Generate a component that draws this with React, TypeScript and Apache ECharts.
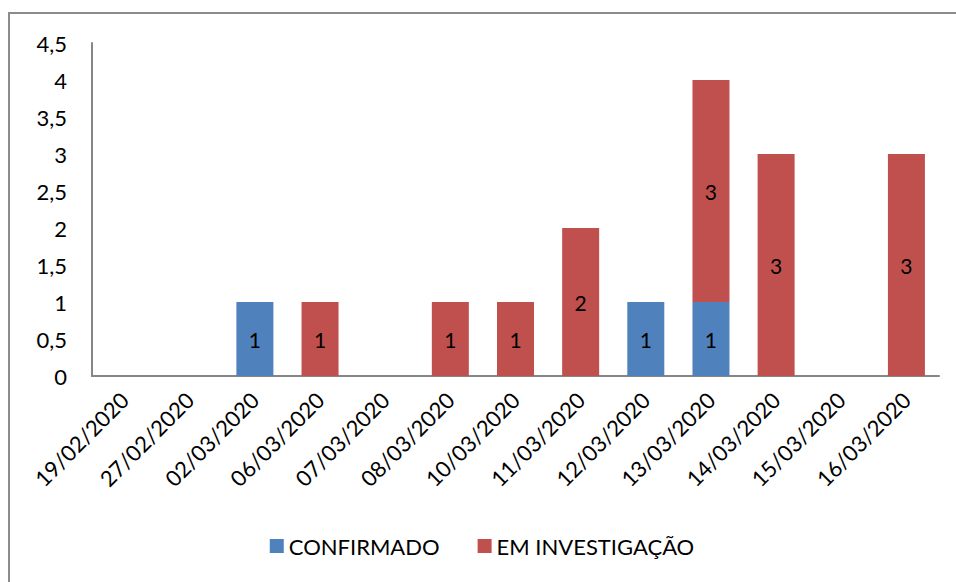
import React, { useEffect, useRef } from "react";
import * as echarts from "echarts";

const categories = [
  "19/02/2020", "27/02/2020", "02/03/2020", "06/03/2020", "07/03/2020",
  "08/03/2020", "10/03/2020", "11/03/2020", "12/03/2020", "13/03/2020",
  "14/03/2020", "15/03/2020", "16/03/2020",
];
const confirmado = [0, 0, 1, 0, 0, 0, 0, 0, 1, 1, 0, 0, 0];
const emInvestigacao = [0, 0, 0, 1, 0, 1, 1, 2, 0, 3, 3, 0, 3];

const FONT = "Lato, 'Open Sans', sans-serif";

export default function App() {
  const ref = useRef<HTMLDivElement>(null);
  useEffect(() => {
    if (!ref.current) return;
    const chart = echarts.init(ref.current, undefined, { renderer: "svg" });
    const label = {
      show: true,
      position: "inside",
      color: "#000",
      fontSize: 21,
      fontFamily: FONT,
      formatter: (p: any) => (p.value ? String(p.value) : ""),
    };
    chart.setOption({
      animation: false,
      textStyle: { fontFamily: FONT },
      grid: { left: 84, top: 35, right: 17, bottom: 206, containLabel: false },
      legend: {
        bottom: 20,
        left: "center",
        itemWidth: 14,
        itemHeight: 14,
        itemGap: 38,
        icon: "rect",
        textStyle: { fontSize: 22, color: "#000", fontFamily: FONT },
        data: ["CONFIRMADO", "EM INVESTIGAÇÃO"],
      },
      xAxis: {
        type: "category",
        data: categories,
        axisLine: { lineStyle: { color: "#868686", width: 2 } },
        axisTick: { show: false },
        axisLabel: {
          rotate: 45,
          interval: 0,
          margin: 20,
          fontSize: 22,
          color: "#000",
          fontFamily: FONT,
        },
      },
      yAxis: {
        type: "value",
        min: 0,
        max: 4.5,
        interval: 0.5,
        splitLine: { show: false },
        axisLine: { show: true, lineStyle: { color: "#868686", width: 2 } },
        axisTick: { show: false },
        axisLabel: {
          margin: 25,
          fontSize: 22,
          color: "#000",
          fontFamily: FONT,
          formatter: (v: number) => String(v).replace(".", ","),
        },
      },
      series: [
        {
          name: "CONFIRMADO",
          type: "bar",
          stack: "total",
          barWidth: 37,
          data: confirmado,
          itemStyle: { color: "#4F81BD" },
          label,
        },
        {
          name: "EM INVESTIGAÇÃO",
          type: "bar",
          stack: "total",
          barWidth: 37,
          data: emInvestigacao,
          itemStyle: { color: "#C0504D" },
          label,
        },
      ],
    });
    return () => chart.dispose();
  }, []);
  return (
    <>
      <div
        style={{
          position: "absolute",
          left: 8,
          top: 12,
          width: 948,
          height: 570,
          boxSizing: "border-box",
          borderLeft: "2px solid #8c8c8c",
          borderTop: "2px solid #8c8c8c",
          pointerEvents: "none",
        }}
      />
      <div
        ref={ref}
        style={{ position: "absolute", left: 8, top: 8, width: 948, height: 574, overflow: "hidden" }}
      />
    </>
  );
}
